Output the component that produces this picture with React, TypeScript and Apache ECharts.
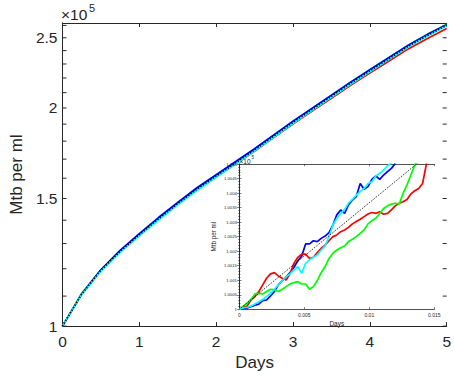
import React, { useEffect, useRef } from "react";
import * as echarts from "echarts";

// ---------- main panel data (Mtb per ml vs days) ----------
const mainDays = [0, 0.25, 0.5, 0.75, 1, 1.25, 1.5, 1.75, 2, 2.25, 2.5, 2.75, 3, 3.25, 3.5, 3.75, 4, 4.25, 4.5, 4.75, 5];
const mainModel = [100000, 110660, 119400, 126770, 133660, 140600, 147570, 154530, 161060, 167880, 174980, 182810, 190990, 199070, 207490, 216270, 224910, 233880, 243220, 251770, 260020];
const mainBlue = [100000, 110700, 119600, 127200, 134200, 141200, 148200, 155200, 161800, 168600, 175700, 183600, 191800, 199900, 208300, 217100, 225800, 234800, 244100, 252700, 260600];
const mainCyan = [100000, 110500, 119100, 126400, 133200, 140100, 147000, 153900, 160500, 167300, 174400, 182200, 190400, 198500, 206900, 215700, 224400, 233400, 242800, 251400, 259800];
const mainGreen = [100000, 111000, 119600, 126900, 133800, 140800, 147800, 154800, 161400, 168300, 175500, 183400, 191600, 199700, 208200, 217100, 225800, 234900, 244200, 252800, 261000];
const mainRed = [100000, 110600, 119300, 126600, 133400, 140300, 147200, 154100, 160600, 167300, 174300, 182000, 190000, 198000, 206300, 214900, 223400, 232200, 241300, 249500, 257500];
const mainYLabels = [100000, 150000, 200000, 250000];
const mainYTicks = [100000, 110000, 120000, 130000, 140000, 150000, 160000, 170000, 180000, 190000, 200000, 210000, 220000, 230000, 240000, 250000, 260000];
const mainXEdges = [0, 5];

// ---------- inset data ----------
const insetDays = [0, 0.0003, 0.0006, 0.0009, 0.0012, 0.0015, 0.0018, 0.0021, 0.0024, 0.0027, 0.003, 0.0033, 0.0036, 0.0039, 0.0042, 0.0045, 0.0048, 0.0051, 0.0054, 0.0057, 0.006, 0.0063, 0.0066, 0.0069, 0.0072, 0.0075, 0.0078, 0.0081, 0.0084, 0.0087, 0.009, 0.0093, 0.0096, 0.0099, 0.0102, 0.0105, 0.0108, 0.0111, 0.0114, 0.0117, 0.012, 0.0123, 0.0126, 0.0129, 0.0132, 0.0135, 0.0138, 0.0141, 0.0144];
const insetBlue = [100000, 100002, 100005, 100009, 100014, 100018, 100030, 100032, 100046, 100061, 100084, 100099, 100112, 100126, 100144, 100167, 100183, 100225, 100225, 100236, 100233, 100244, 100252, 100264, 100290, 100325, 100342, 100330, 100359, 100376, 100388, 100433, 100413, 100422, 100447, 100459, 100447, 100462, 100474, 100485, 100502];
const insetCyan = [100000, 100005, 100007, 100011, 100018, 100026, 100034, 100044, 100055, 100069, 100084, 100099, 100112, 100122, 100135, 100147, 100124, 100158, 100170, 100179, 100187, 100204, 100218, 100250, 100290, 100313, 100330, 100344, 100365, 100378, 100393, 100405, 100416, 100433, 100439, 100459, 100468, 100479, 100493, 100505];
const insetRed = [100000, 100007, 100011, 100032, 100044, 100061, 100084, 100107, 100122, 100126, 100115, 100107, 100101, 100122, 100158, 100179, 100190, 100190, 100175, 100179, 100195, 100210, 100221, 100236, 100250, 100256, 100267, 100273, 100282, 100294, 100302, 100310, 100319, 100328, 100333, 100330, 100336, 100327, 100330, 100342, 100356, 100365, 100370, 100378, 100397, 100408, 100416, 100433, 100502];
const insetGreen = [100000, 100011, 100021, 100034, 100053, 100055, 100053, 100061, 100069, 100067, 100061, 100069, 100078, 100087, 100092, 100095, 100087, 100087, 100069, 100078, 100099, 100126, 100147, 100175, 100193, 100204, 100212, 100218, 100233, 100241, 100250, 100261, 100273, 100294, 100305, 100313, 100330, 100347, 100356, 100362, 100365, 100362, 100399, 100428, 100462, 100497, 100525];
const insetModelDays = [0, 0.003, 0.006, 0.009, 0.012, 0.015];
const insetModel = [100000, 100110, 100220, 100330, 100440, 100550];

const FONT = '"Liberation Sans", Arial, Helvetica, sans-serif';
const INK = "#262626";

const pairs = (xs: number[], ys: number[]) => ys.map((v, i) => [xs[i], v]);

export default function App() {
  const ref = useRef<HTMLDivElement>(null);
  useEffect(() => {
    if (!ref.current) return;
    const chart = echarts.init(ref.current, undefined, { renderer: "svg" });

    const mainLine = (name: string, data: number[], color: string, dotted = false) => ({
      name,
      type: "line",
      xAxisIndex: 0,
      yAxisIndex: 0,
      data: pairs(mainDays, data),
      showSymbol: false,
      z: 2,
      lineStyle: dotted ? { color: "#000", width: 1.6, type: [1.2, 1.8] } : { color, width: 1.7 },
    });
    const insetLine = (name: string, xs: number[], data: number[], color: string, dotted = false) => ({
      name,
      type: "line",
      xAxisIndex: 2,
      yAxisIndex: 2,
      data: pairs(xs, data),
      showSymbol: false,
      clip: true,
      z: 12,
      lineStyle: dotted ? { color: "#000", width: 1, type: [1, 1.3] } : { color, width: 1.7 },
    });

    const mainTickLabel = { fontFamily: FONT, fontSize: 15.5, color: INK };
    const insetTickLabel = { fontFamily: FONT, color: INK };
    const mainTick = { inside: true, length: 4, lineStyle: { color: INK, width: 1 } };
    const insetTick = { inside: true, length: 2.2, lineStyle: { color: INK, width: 0.6 } };
    const insetMinor = { show: true, splitNumber: 5, length: 1.2, lineStyle: { color: INK, width: 0.5 } };

    // log-axis ticks on both sides of the main box, placed through the main axes' scales
    const logTickData: number[][] = [];
    mainXEdges.forEach((x) => mainYTicks.forEach((v) => logTickData.push([x, v])));

    const option: any = {
      animation: false,
      backgroundColor: "#fff",
      grid: [
        { left: 60.3, top: 23, width: 391.4, height: 304, show: false },
        { left: 239.3, top: 164, width: 195, height: 145.3, show: true, backgroundColor: "#fff", borderWidth: 0, z: 10 },
      ],
      xAxis: [
        {
          gridIndex: 0, type: "value", min: 0, max: 5, interval: 1, position: "bottom",
          axisLine: { lineStyle: { color: INK, width: 1 } },
          axisTick: mainTick,
          axisLabel: { ...mainTickLabel, margin: 7 },
          splitLine: { show: false },
          name: "Days", nameLocation: "middle", nameGap: 27,
          nameTextStyle: { fontFamily: FONT, fontSize: 17, color: INK },
        },
        {
          gridIndex: 0, type: "value", min: 0, max: 5, interval: 1, position: "top",
          axisLine: { lineStyle: { color: INK, width: 1 } },
          axisTick: mainTick,
          axisLabel: { show: false }, splitLine: { show: false },
        },
        {
          gridIndex: 1, type: "value", min: 0, max: 0.015, interval: 0.005, position: "bottom", z: 11,
          axisLine: { lineStyle: { color: INK, width: 0.8 } },
          axisTick: insetTick,
          axisLabel: { ...insetTickLabel, fontSize: 5, margin: 3, formatter: (v: number) => String(+v.toFixed(4)) },
          splitLine: { show: false },
          name: "Days", nameLocation: "middle", nameGap: 10.5,
          nameTextStyle: { fontFamily: FONT, fontSize: 6.5, color: INK },
        },
        {
          gridIndex: 1, type: "value", min: 0, max: 0.015, interval: 0.005, position: "top", z: 11,
          axisLine: { lineStyle: { color: INK, width: 0.8 } },
          axisTick: insetTick,
          axisLabel: { show: false }, splitLine: { show: false },
        },
      ],
      yAxis: [
        {
          gridIndex: 0, type: "log", logBase: 10, min: 100000, max: 262000, position: "left",
          axisLine: { lineStyle: { color: INK, width: 1 } },
          axisTick: { show: false },
          axisLabel: { ...mainTickLabel, margin: 5, customValues: mainYLabels, formatter: (v: number) => String(+(v / 100000).toFixed(2)) },
          splitLine: { show: false }, minorTick: { show: false },
          name: "Mtb per ml", nameLocation: "middle", nameGap: 26.5,
          nameTextStyle: { fontFamily: FONT, fontSize: 17, color: INK },
        },
        {
          gridIndex: 0, type: "log", logBase: 10, min: 100000, max: 262000, position: "right",
          axisLine: { lineStyle: { color: INK, width: 1 } },
          axisTick: { show: false },
          axisLabel: { show: false }, splitLine: { show: false }, minorTick: { show: false },
        },
        {
          gridIndex: 1, type: "value", min: 100000, max: 100500, interval: 50, position: "left", z: 11,
          axisLine: { lineStyle: { color: INK, width: 0.8 } },
          axisTick: insetTick,
          minorTick: insetMinor,
          axisLabel: { ...insetTickLabel, fontSize: 4.2, margin: 2.5, formatter: (v: number) => String(+(v / 100000).toFixed(5)) },
          splitLine: { show: false },
          name: "Mtb per ml", nameLocation: "middle", nameGap: 23,
          nameTextStyle: { fontFamily: FONT, fontSize: 6.3, color: INK },
        },
        {
          gridIndex: 1, type: "value", min: 100000, max: 100500, interval: 50, position: "right", z: 11,
          axisLine: { lineStyle: { color: INK, width: 0.8 } },
          axisTick: insetTick,
          minorTick: insetMinor,
          axisLabel: { show: false }, splitLine: { show: false },
        },
      ],
      graphic: [
        { type: "text", left: 61, top: 6, z: 1, style: { text: "×10", fontFamily: FONT, fontSize: 15.5, fill: INK } },
        { type: "text", left: 89, top: 2, z: 1, style: { text: "5", fontFamily: FONT, fontSize: 11, fill: INK } },
        { type: "text", left: 239.5, top: 157.5, z: 1, style: { text: "×10", fontFamily: FONT, fontSize: 6.5, fill: INK } },
        { type: "text", left: 251.5, top: 155, z: 1, style: { text: "5", fontFamily: FONT, fontSize: 4.6, fill: INK } },
      ],
      series: [
        {
          type: "custom",
          xAxisIndex: 0,
          yAxisIndex: 0,
          silent: true,
          clip: false,
          z: 1,
          data: logTickData,
          renderItem: (_p: any, api: any) => {
            const x = api.value(0);
            const pt = api.coord([x, api.value(1)]);
            const dir = x === 0 ? 1 : -1;
            return {
              type: "line",
              shape: { x1: pt[0], y1: pt[1], x2: pt[0] + dir * 4, y2: pt[1] },
              style: { stroke: INK, lineWidth: 1 },
            };
          },
        },
        mainLine("red", mainRed, "#ff0000"),
        mainLine("green", mainGreen, "#00ff00"),
        mainLine("blue", mainBlue, "#0000ff"),
        mainLine("cyan", mainCyan, "#00ffff"),
        mainLine("model", mainModel, "#000", true),
        insetLine("blue", insetDays, insetBlue, "#0000ff"),
        insetLine("red", insetDays, insetRed, "#ff0000"),
        insetLine("green", insetDays, insetGreen, "#00ff00"),
        insetLine("cyan", insetDays, insetCyan, "#00ffff"),
        insetLine("model", insetModelDays, insetModel, "#000", true),
      ],
    };
    chart.setOption(option);
    return () => chart.dispose();
  }, []);
  return <div ref={ref} style={{ position: "fixed", left: 0, top: 0, width: 454, height: 376 }} />;
}
